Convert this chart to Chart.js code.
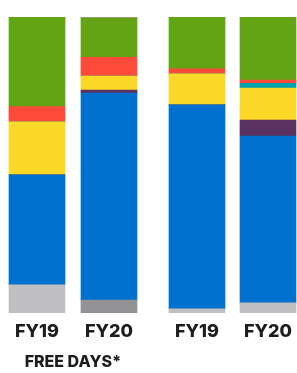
<!DOCTYPE html>
<html>
<head>
<meta charset="utf-8">
<script src="https://cdn.jsdelivr.net/npm/chart.js@4"></script>
<style>
  html, body { margin: 0; padding: 0; background: #fff; overflow: hidden; }
  body { width: 297px; height: 373px; position: relative; }
  #left { position: absolute; left: 0; top: 0; }
  #right { position: absolute; left: 150px; top: 0; }
</style>
</head>
<body>
<canvas id="left" width="150" height="373"></canvas>
<canvas id="right" width="160" height="373"></canvas>
<script>
// share of days (%), order: left FY19, left FY20, right FY19, right FY20
const categories = ['FY19', 'FY20'];
const gray   = [9.5, 4.4, 1.4, 3.4];
const blue   = [37.2, 69.9, 68.9, 56.4];
const purple = [0, 1.0, 0, 5.4];
const yellow = [17.9, 4.7, 10.5, 10.8];
const teal   = [0, 0, 0, 1.6];
const red    = [5.1, 6.4, 1.7, 1.1];
const green  = [30.3, 13.3, 17.5, 21.3];
const pink   = [0, 0.3, 0, 0];

const grayColors = ['#bfbfc1', '#939396', '#bfbfc1', '#bfbfc1'];
const fontFamily = 'Inter';

function makeSets(from, to) {
	return [
		{ data: gray.slice(from, to), backgroundColor: grayColors.slice(from, to) },
		{ data: blue.slice(from, to), backgroundColor: '#0071ce' },
		{ data: purple.slice(from, to), backgroundColor: '#5a3262' },
		{ data: yellow.slice(from, to), backgroundColor: '#fcd827' },
		{ data: teal.slice(from, to), backgroundColor: '#00a3ad' },
		{ data: red.slice(from, to), backgroundColor: '#ff4a3a' },
		{ data: green.slice(from, to), backgroundColor: '#62a413' },
		{ data: pink.slice(from, to), backgroundColor: '#c88fbf' }
	].map(d => Object.assign(d, { borderWidth: 0, barThickness: 56 }));
}

function makeConfig(from, to, title, padLeft, padRight) {
	return {
		type: 'bar',
		data: { labels: categories, datasets: makeSets(from, to) },
		options: {
			responsive: false,
			animation: false,
			devicePixelRatio: 1,
			layout: { padding: { top: 17, left: padLeft, right: padRight, bottom: 0 } },
			plugins: { legend: { display: false }, tooltip: { enabled: false } },
			scales: {
				x: {
					stacked: true,
					grid: { display: false, drawTicks: false },
					border: { display: false },
					ticks: { color: '#1d1d1d', padding: 8, font: { family: fontFamily, size: 18, weight: 800 } },
					title: {
						display: !!title,
						text: title,
						color: '#1d1d1d',
						padding: { top: 0, bottom: 1 },
						font: { family: fontFamily, size: 16, weight: 800 }
					},
					afterFit: function(scale) { scale.height = 60; }
				},
				y: { stacked: true, display: false, min: 0, max: 100 }
			}
		}
	};
}

new Chart(document.getElementById('left'), makeConfig(0, 2, 'FREE DAYS*', 1, 5));
new Chart(document.getElementById('right'), makeConfig(2, 4, '', 11.5, 6.5));
</script>
</body>
</html>
